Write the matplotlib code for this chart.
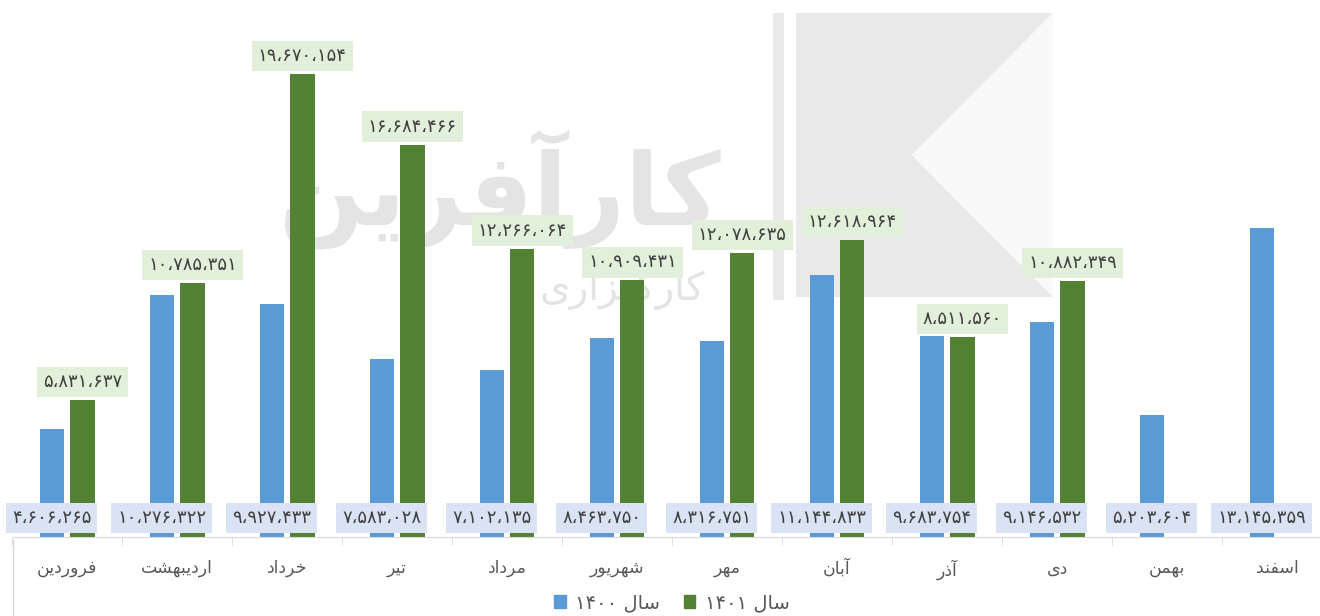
import matplotlib
matplotlib.use("Agg")
import matplotlib.pyplot as plt
from matplotlib.patches import Polygon, Rectangle, Patch
from matplotlib.lines import Line2D

# ---------------- data ----------------
months = ["فروردین", "اردیبهشت", "خرداد", "تیر", "مرداد", "شهریور",
          "مهر", "آبان", "آذر", "دی", "بهمن", "اسفند"]
series_names = ["سال ۱۴۰۰", "سال ۱۴۰۱"]
# values printed in the labels
labels_1400 = [4606265, 10276322, 9927433, 7583028, 7102135, 8463750,
               8316751, 11144833, 9683754, 9146532, 5203604, 13145359]
labels_1401 = [5831637, 10785351, 19670154, 16684466, 12266064, 10909431,
               12078635, 12618964, 8511560, 10882349]
# bar heights as drawn in the picture (the Azar 1400 bar is drawn lower than its label)
heights_1400 = [4606265, 10276322, 9927433, 7583028, 7102135, 8463750,
                8316751, 11144833, 8540000, 9146532, 5203604, 13145359]
heights_1401 = labels_1401

# ---------------- Persian shaping helpers ----------------
FORMS = {
    'ا': ('\uFE8D', '\uFE8E', None, None),
    'آ': ('\uFE81', '\uFE82', None, None),
    'ب': ('\uFE8F', '\uFE90', '\uFE91', '\uFE92'),
    'ت': ('\uFE95', '\uFE96', '\uFE97', '\uFE98'),
    'خ': ('\uFEA5', '\uFEA6', '\uFEA7', '\uFEA8'),
    'د': ('\uFEA9', '\uFEAA', None, None),
    'ذ': ('\uFEAB', '\uFEAC', None, None),
    'ر': ('\uFEAD', '\uFEAE', None, None),
    'ز': ('\uFEAF', '\uFEB0', None, None),
    'س': ('\uFEB1', '\uFEB2', '\uFEB3', '\uFEB4'),
    'ش': ('\uFEB5', '\uFEB6', '\uFEB7', '\uFEB8'),
    'ف': ('\uFED1', '\uFED2', '\uFED3', '\uFED4'),
    'ل': ('\uFEDD', '\uFEDE', '\uFEDF', '\uFEE0'),
    'م': ('\uFEE1', '\uFEE2', '\uFEE3', '\uFEE4'),
    'ن': ('\uFEE5', '\uFEE6', '\uFEE7', '\uFEE8'),
    'ه': ('\uFEE9', '\uFEEA', '\uFEEB', '\uFEEC'),
    'و': ('\uFEED', '\uFEEE', None, None),
    'ی': ('\uFBFC', '\uFBFD', '\uFBFE', '\uFBFF'),
    'ک': ('\u06A9', '\u06A9', '\uFEDB', '\uFEDC'),
    'گ': ('\u06AF', '\u06AF', '\u06AF', '\u06AF'),
}
PDIG = str.maketrans("0123456789,", "۰۱۲۳۴۵۶۷۸۹،")


def shape_word(w):
    if all(c not in FORMS for c in w):
        return w
    out = []
    n = len(w)
    for i, c in enumerate(w):
        f = FORMS.get(c)
        if f is None:
            out.append(c)
            continue
        prev = w[i - 1] if i > 0 else None
        nxt = w[i + 1] if i < n - 1 else None
        jp = prev is not None and prev in FORMS and FORMS[prev][2] is not None
        jn = f[2] is not None and nxt is not None and nxt in FORMS
        if jp and jn:
            out.append(f[3])
        elif jp:
            out.append(f[1])
        elif jn:
            out.append(f[2])
        else:
            out.append(f[0])
    return ''.join(reversed(out))


def rtl(text):
    return ' '.join(shape_word(w) for w in reversed(text.split(' ')))


def pnum(v):
    return f"{v:,}".translate(PDIG)


# ---------------- figure ----------------
plt.rcParams['font.family'] = ['DejaVu Sans']
W, H = 1320, 616
fig = plt.figure(figsize=(W / 100, H / 100), dpi=100)
fig.patch.set_facecolor('white')


def fx(px):
    return px / W


def fy(py):
    return 1 - py / H


# watermark (behind everything)
wm = '#e9e9e9'
fig.patches.append(Rectangle((fx(773), fy(300)), fx(11), 287 / H, transform=fig.transFigure,
                             fc=wm, ec='none', zorder=0))
poly = [(796, 13), (1053, 13), (912, 155), (1053, 297), (796, 297)]
fig.patches.append(Polygon([(fx(x), fy(y)) for x, y in poly], closed=True, transform=fig.transFigure,
                           fc=wm, ec='none', zorder=0))
tri = [(912, 155), (1053, 13), (1053, 297)]
fig.patches.append(Polygon([(fx(x), fy(y)) for x, y in tri], closed=True, transform=fig.transFigure,
                           fc='#f9f9f9', ec='none', zorder=0))
fig.text(fx(500), fy(190), rtl("کارآفرین"), fontsize=72, fontweight='bold',
         color='#e4e4e4', ha='center', va='center', zorder=0)
fig.text(fx(622), fy(288), rtl("کارگزاری"), fontsize=28,
         color='#e3e3e3', ha='center', va='center', zorder=0)

ax = fig.add_axes([fx(12), fy(537), 1320 / W, 537 / H])
ax.patch.set_alpha(0)
ax.set_zorder(2)

scale = 23.52  # px per million
ax.set_ylim(0, 537 / scale * 1e6)
ax.set_xlim(-0.5, 11.5)

blue = '#5b9bd5'
green = '#548235'
off = 0.14
bw = 0.22

xb = [i - off for i in range(len(heights_1400))]
xg = [i + off for i in range(len(heights_1401))]
ax.bar(xb, heights_1400, width=bw, color=blue, zorder=2)
ax.bar(xg, heights_1401, width=bw, color=green, zorder=2)

px2pt = 0.72
for x, v in zip(xb, labels_1400):
    ax.annotate(pnum(v), xy=(x, 0), xytext=(0, 19 * px2pt), textcoords='offset points',
                ha='center', va='center', fontsize=13, color='#404040', zorder=5,
                bbox=dict(boxstyle='square,pad=0.34', fc='#dae3f3', ec='none'))
for x, v, h in zip(xg, labels_1401, heights_1401):
    ax.annotate(pnum(v), xy=(x, h), xytext=(0, 18 * px2pt), textcoords='offset points',
                ha='center', va='center', fontsize=13, color='#404040', zorder=5,
                bbox=dict(boxstyle='square,pad=0.34', fc='#e2efda', ec='none'))

for s in ['top', 'right', 'left']:
    ax.spines[s].set_visible(False)
ax.spines['bottom'].set_color('#d9d9d9')
ax.set_yticks([])
ax.set_xticks(range(len(months)))
ax.set_xticklabels([rtl(m) for m in months], fontsize=12.5, color='#595959')
ax.tick_params(axis='x', which='major', length=0, pad=16)
ax.set_xticks([i + 0.5 for i in range(-1, len(months))], minor=True)
ax.tick_params(axis='x', which='minor', length=6, color='#d9d9d9')

# left frame line
fig.add_artist(Line2D([fx(13), fx(13)], [fy(540), 0], color='#d9d9d9', lw=1))

handles = [Patch(color=blue, label=rtl(series_names[0])),
           Patch(color=green, label=rtl(series_names[1]))]
fig.legend(handles=handles, loc='center', bbox_to_anchor=(fx(672), fy(603)), ncol=2,
           frameon=False, fontsize=14, handlelength=0.6, handleheight=0.6,
           handletextpad=0.5, columnspacing=1.2, labelcolor='#595959')

fig.savefig('out.png', dpi=100)
